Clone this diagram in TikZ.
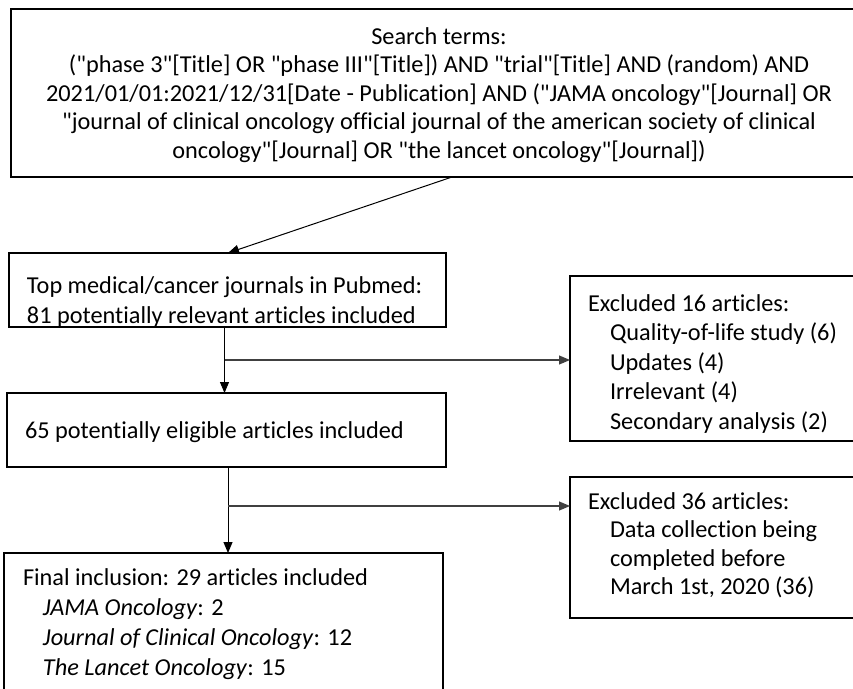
\documentclass[tikz,border=0pt]{standalone}
\usepackage{fontspec}
\setmainfont{Carlito}
\newfontfamily\carl{Carlito}[Ligatures=CommonOff]
\usetikzlibrary{arrows.meta}
\begin{document}
\begin{tikzpicture}[x=1pt,y=-1pt]
\tikzset{
  boxsty/.style={draw=black, line width=1.8pt, anchor=north west, inner sep=0pt, outer sep=0pt},
  txt/.style={inner sep=0pt, outer sep=0pt, font=\carl\fontsize{24.3}{29.5}\selectfont},
  conn/.style={line width=1pt, draw=black},
  branch/.style={line width=1.1pt, draw=black!75, -{Triangle[length=11pt,width=9pt]}},
  arr/.style={conn, -{Triangle[length=11pt,width=9pt]}},
}
\useasboundingbox (0,0) rectangle (853,688);
% boxes
\node[boxsty, minimum width=856pt, minimum height=168pt] (top) at (11,9) {};
\node[boxsty, minimum width=437pt, minimum height=74pt] (b2) at (9,253) {};
\node[boxsty, minimum width=300pt, minimum height=165pt] (b3) at (570,276) {};
\node[boxsty, minimum width=439pt, minimum height=74pt] (b4) at (7,393) {};
\node[boxsty, minimum width=300pt, minimum height=141pt] (b6) at (570,477) {};
\node[boxsty, minimum width=439pt, minimum height=140pt] (b5) at (4,553) {};
% texts (anchor base = baseline of the last line)
\node[txt, font=\carl\fontsize{24.3}{28.5}\selectfont, align=center, anchor=base] (toptxt) at (439,158)
  {Search terms:\\("phase 3"[Title] OR "phase III"[Title]) AND "trial"[Title] AND (random) AND\\2021/01/01:2021/12/31[Date - Publication] AND ("JAMA oncology"[Journal] OR\\"journal of clinical oncology official journal of the american society of clinical\\oncology"[Journal] OR "the lancet oncology"[Journal])};
\node[txt, align=left, anchor=base west] (b2txt) at (27,323)
  {Top medical/cancer journals in Pubmed:\\81 potentially relevant articles included};
\node[txt, align=left, anchor=base west] (b3txt) at (588,429)
  {Excluded 16 articles:\\\hspace*{22pt}Quality-of-life study (6)\\\hspace*{22pt}Updates (4)\\\hspace*{22pt}Irrelevant (4)\\\hspace*{22pt}Secondary analysis (2)};
\node[txt, align=left, anchor=base west] (b4txt) at (25,438)
  {65 potentially eligible articles included};
\node[txt, font=\carl\fontsize{24.3}{28.5}\selectfont, align=left, anchor=base west] (b6txt) at (588,594.5)
  {Excluded 36 articles:\\\hspace*{22pt}Data collection being\\\hspace*{22pt}completed before\\\hspace*{22pt}March 1st, 2020 (36)};
\node[txt, font=\carl\fontsize{24.3}{30}\selectfont, align=left, anchor=base west] (b5txt) at (23,675)
  {Final inclusion: 29 articles included\\\hspace*{20pt}\textit{JAMA Oncology}: 2\\\hspace*{20pt}\textit{Journal of Clinical Oncology}: 12\\\hspace*{20pt}\textit{The Lancet Oncology}: 15};
% connectors
\draw[arr] ([xshift=13pt]top.south) -- ([xshift=0.5pt]b2.north);
\draw[arr] ([xshift=-3pt]b2.south) -- ([xshift=-3pt]b2.south |- b4.north);
\coordinate (j1) at ([xshift=-3pt]b2.south |- 0,360);
\draw[branch] (j1) -- (j1 -| b3.west);
\draw[arr] ([xshift=1.5pt]b4.south) -- ([xshift=1.5pt]b4.south |- b5.north);
\coordinate (j2) at ([xshift=1.5pt]b4.south |- 0,506);
\draw[branch] (j2) -- (j2 -| b6.west);
\end{tikzpicture}
\end{document}
